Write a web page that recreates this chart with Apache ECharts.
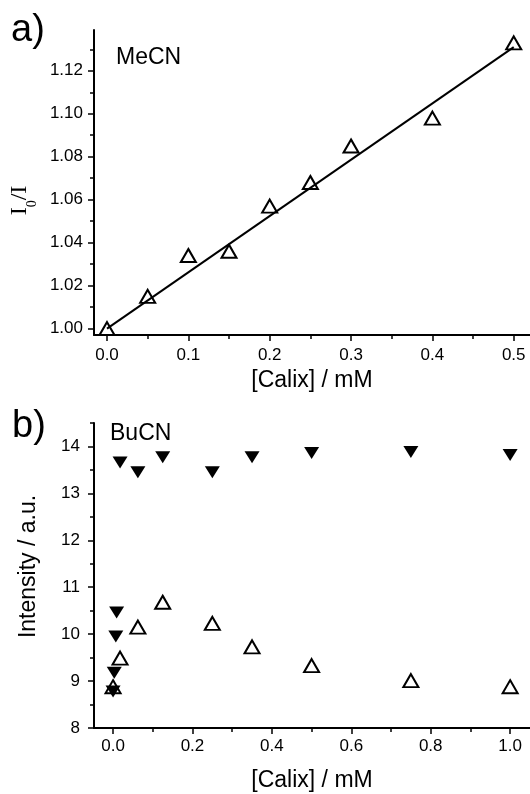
<!DOCTYPE html>
<html>
<head>
<meta charset="utf-8">
<script src="https://cdn.jsdelivr.net/npm/echarts@6/dist/echarts.min.js"></script>
<style>
html,body{margin:0;padding:0;background:#fff;}
#chart{width:530px;height:794px;}
</style>
</head>
<body>
<div id="chart"></div>
<script>
// Panel a) MeCN : I0/I vs [Calix]
var calixA = [0, 0.05, 0.1, 0.15, 0.2, 0.25, 0.3, 0.4, 0.5];
var ratioA = [1.000, 1.015, 1.034, 1.036, 1.057, 1.068, 1.085, 1.098, 1.133];
var fitX = [0, 0.5];
var fitY = [1.000, 1.131];
var xTicksA = [0, 0.1, 0.2, 0.3, 0.4, 0.5];
var xMinorA = [0.05, 0.15, 0.25, 0.35, 0.45];
var yTicksA = [1.00, 1.02, 1.04, 1.06, 1.08, 1.10, 1.12];
var yMinorA = [1.01, 1.03, 1.05, 1.07, 1.09, 1.11, 1.13];

// Panel b) BuCN : Intensity vs [Calix]
var calixOpenB = [0, 0.0176, 0.0625, 0.125, 0.25, 0.35, 0.5, 0.75, 1.0];
var intensityOpenB = [8.88, 9.49, 10.15, 10.68, 10.23, 9.73, 9.33, 9.01, 8.88];
var calixFilledB = [0, 0.003, 0.007, 0.009, 0.0176, 0.0625, 0.125, 0.25, 0.35, 0.5, 0.75, 1.0];
var intensityFilledB = [8.78, 9.18, 9.95, 10.46, 13.66, 13.45, 13.77, 13.45, 13.77, 13.86, 13.88, 13.82];
var xTicksB = [0, 0.2, 0.4, 0.6, 0.8, 1.0];
var xMinorB = [0.1, 0.3, 0.5, 0.7, 0.9];
var yTicksB = [8, 9, 10, 11, 12, 13, 14];
var yMinorB = [8.5, 9.5, 10.5, 11.5, 12.5, 13.5, 14.5];

function pairs(xs, ys) { return xs.map(function (x, i) { return [x, ys[i]]; }); }

var FONT = 'Liberation Sans';
var black = '#000';

function mainAxis(opts) {
  return Object.assign({
    type: 'value',
    splitLine: { show: false },
    axisLine: { show: true, onZero: false, lineStyle: { color: black, width: 2 } },
    axisTick: { show: true, inside: false, length: 6, lineStyle: { color: black, width: 1.5 } },
    axisLabel: { color: black, fontFamily: FONT, fontSize: 17 },
    nameTextStyle: { color: black, fontFamily: FONT, fontSize: 23 }
  }, opts);
}
function minorAxis(opts) {
  return Object.assign({
    type: 'value',
    splitLine: { show: false },
    axisLine: { show: false, onZero: false },
    axisLabel: { show: false },
    axisTick: { show: true, inside: false, length: 4, lineStyle: { color: black, width: 1.5 } }
  }, opts);
}

var chart = echarts.init(document.getElementById('chart'), null, { renderer: 'canvas' });

var option = {
  backgroundColor: '#fff',
  animation: false,
  grid: [
    { left: 93, right: 0, top: 30, bottom: 459 },
    { left: 94, right: 0, top: 423, bottom: 66 }
  ],
  xAxis: [
    mainAxis({
      gridIndex: 0, position: 'bottom', min: -0.016, max: 0.52,
      axisTick: { show: true, length: 6, customValues: xTicksA, lineStyle: { color: black, width: 1.5 } },
      axisLabel: { color: black, fontFamily: FONT, fontSize: 17, margin: 12, customValues: xTicksA,
        formatter: function (v) { return v.toFixed(1); } },
      name: '[Calix] / mM', nameLocation: 'middle', nameGap: 34
    }),
    minorAxis({ gridIndex: 0, position: 'bottom', min: -0.016, max: 0.52,
      axisTick: { show: true, length: 4, customValues: xMinorA, lineStyle: { color: black, width: 1.5 } } }),
    mainAxis({
      gridIndex: 1, position: 'bottom', min: -0.048, max: 1.05,
      axisTick: { show: true, length: 6, customValues: xTicksB, lineStyle: { color: black, width: 1.5 } },
      axisLabel: { color: black, fontFamily: FONT, fontSize: 17, margin: 10, customValues: xTicksB,
        formatter: function (v) { return v.toFixed(1); } },
      name: '[Calix] / mM', nameLocation: 'middle', nameGap: 41
    }),
    minorAxis({ gridIndex: 1, position: 'bottom', min: -0.048, max: 1.05,
      axisTick: { show: true, length: 4, customValues: xMinorB, lineStyle: { color: black, width: 1.5 } } })
  ],
  yAxis: [
    mainAxis({
      gridIndex: 0, position: 'left', min: 0.997, max: 1.139,
      axisTick: { show: true, length: 6, customValues: yTicksA, lineStyle: { color: black, width: 1.5 } },
      axisLabel: { color: black, fontFamily: FONT, fontSize: 17, margin: 11, customValues: yTicksA,
        formatter: function (v) { return v.toFixed(2); } },
      name: '{a|I}{s|0}{a|/I}', nameLocation: 'middle', nameRotate: 90, nameGap: 46,
      nameTextStyle: {
        color: black,
        padding: [0, 36, 0, 0],
        rich: {
          a: { fontFamily: 'Liberation Serif', fontSize: 24, lineHeight: 24, verticalAlign: 'top', color: black },
          s: { fontFamily: 'Liberation Serif', fontSize: 14, lineHeight: 14, padding: [17, 0, 0, 0], verticalAlign: 'top', color: black }
        }
      }
    }),
    minorAxis({ gridIndex: 0, position: 'left', min: 0.997, max: 1.139,
      axisTick: { show: true, length: 4, customValues: yMinorA, lineStyle: { color: black, width: 1.5 } } }),
    mainAxis({
      gridIndex: 1, position: 'left', min: 8, max: 14.5,
      axisTick: { show: true, length: 6, customValues: yTicksB, lineStyle: { color: black, width: 1.5 } },
      axisLabel: { color: black, fontFamily: FONT, fontSize: 17, margin: 14, customValues: yTicksB,
        formatter: function (v) { return String(v); } },
      name: 'Intensity / a.u.', nameLocation: 'middle', nameRotate: 90, nameGap: 54,
      nameTextStyle: { color: black, fontFamily: FONT, fontSize: 23, padding: [0, 0, 0, 18] }
    }),
    minorAxis({ gridIndex: 1, position: 'left', min: 8, max: 14.5,
      axisTick: { show: true, length: 4, customValues: yMinorB, lineStyle: { color: black, width: 1.5 } } })
  ],
  series: [
    {
      type: 'line', xAxisIndex: 0, yAxisIndex: 0,
      data: pairs(fitX, fitY), showSymbol: false, symbol: 'none',
      lineStyle: { color: black, width: 2 }, z: 2
    },
    {
      type: 'scatter', xAxisIndex: 0, yAxisIndex: 0,
      data: pairs(calixA, ratioA), symbol: 'triangle', symbolSize: [15, 13],
      itemStyle: { color: 'rgba(0,0,0,0)', borderColor: black, borderWidth: 2, opacity: 1 }, z: 3
    },
    {
      type: 'scatter', xAxisIndex: 2, yAxisIndex: 2,
      data: pairs(calixFilledB, intensityFilledB), symbol: 'triangle', symbolRotate: 180, symbolSize: [15, 12],
      itemStyle: { color: black, opacity: 1 }, z: 2
    },
    {
      type: 'scatter', xAxisIndex: 2, yAxisIndex: 2,
      data: pairs(calixOpenB, intensityOpenB), symbol: 'triangle', symbolSize: [15, 13],
      itemStyle: { color: 'rgba(0,0,0,0)', borderColor: black, borderWidth: 2, opacity: 1 }, z: 3
    }
  ],
  graphic: [
    { type: 'text', left: 11, top: 12, style: { text: 'a)', fontFamily: FONT, fontSize: 38, fill: black } },
    { type: 'text', left: 116, top: 46, style: { text: 'MeCN', fontFamily: FONT, fontSize: 23, fill: black } },
    { type: 'text', left: 12, top: 408, style: { text: 'b)', fontFamily: FONT, fontSize: 38, fill: black } },
    { type: 'text', left: 110, top: 422, style: { text: 'BuCN', fontFamily: FONT, fontSize: 23, fill: black } }
  ]
};
chart.setOption(option);
</script>
</body>
</html>
